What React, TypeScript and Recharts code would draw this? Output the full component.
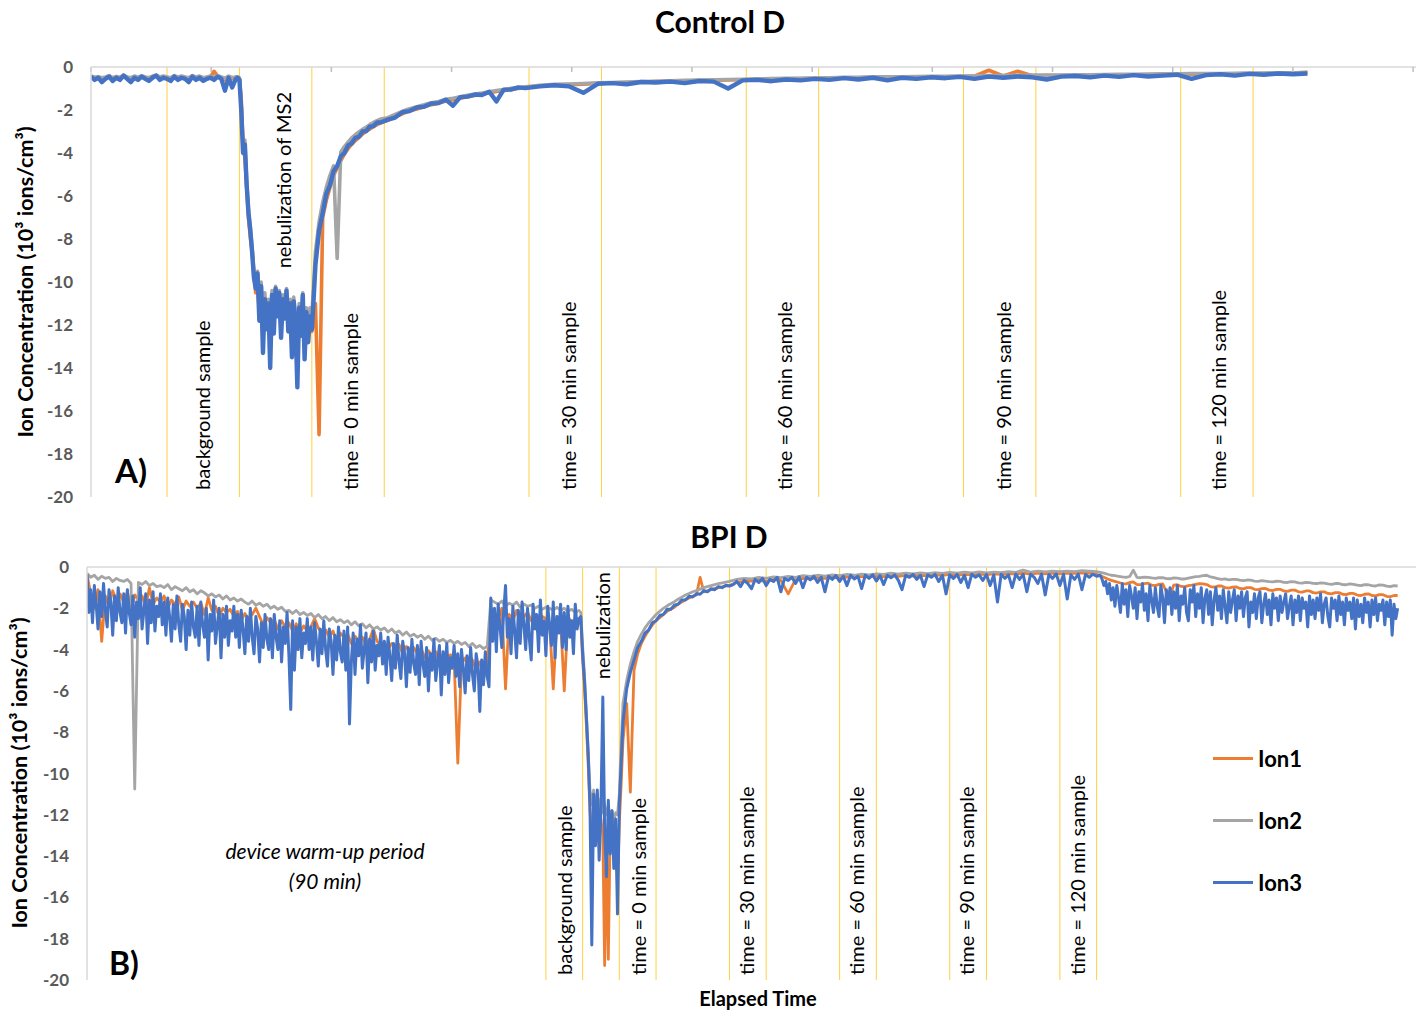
import React from "react";
import { LineChart, Line, XAxis, YAxis, ReferenceLine, Legend } from "recharts";

const FONT = "Lato, 'Open Sans', sans-serif";

// ---------- Control D (minutes) ----------
const controlTime = [
  0, 0.5, 1, 1.5, 2, 2.5, 3, 3.5, 4, 4.5, 5, 5.5, 6, 6.5, 7, 7.5, 8, 8.5, 9, 9.5,
  10, 10.5, 11, 11.5, 12, 12.5, 13, 13.5, 14, 14.5, 15, 15.5, 16, 16.5, 17, 17.5, 18, 18.5, 19, 19.5, 20,
  20.25, 20.5, 20.75, 21, 21.25, 21.5, 21.75, 22, 22.25, 22.5,
  22.75, 23, 23.25, 23.5, 23.75, 24, 24.25, 24.5, 24.75, 25,
  25.25, 25.5, 25.75, 26, 26.25, 26.5, 26.75, 27, 27.25, 27.5,
  27.75, 28, 28.25, 28.5, 28.75, 29, 29.25, 29.5, 29.75, 30,
  30.25, 30.5, 30.75, 31,
  31.5, 32, 32.5, 33, 33.5, 34, 34.5, 35, 35.5, 36, 36.5, 37, 37.5, 38, 38.5, 39, 39.5, 40,
  41, 42, 43, 44, 45, 46, 47, 48, 49, 50, 51, 52, 53, 54, 55, 56, 57, 58, 59, 60,
  62, 64, 66, 68, 70, 72, 74, 76, 78, 80, 82, 84, 86, 88, 90, 92, 94, 96, 98, 100,
  102, 104, 106, 108, 110, 112, 114, 116, 118, 120, 122, 124, 126, 128, 130, 132, 134, 136, 138, 140,
  142, 144, 146, 148, 150, 152, 154, 156, 158, 160, 162, 164, 166, 168,
];

const controlIon1 = [
  -0.45, -0.5, -0.48, -0.55, -0.5, -0.42, -0.55, -0.47, -0.52, -0.4,
  -0.5, -0.55, -0.45, -0.52, -0.42, -0.5, -0.55, -0.45, -0.4, -0.5,
  -0.45, -0.5, -0.55, -0.42, -0.5, -0.45, -0.5, -0.55, -0.45, -0.5,
  -0.45, -0.55, -0.5, -0.45, -0.2, -0.42, -0.5, -0.6, -0.45, -0.55, -0.5,
  -0.5, -0.55, -1.5, -3.6, -4.2, -5.6, -7.0, -7.9, -8.6, -9.6,
  -10.5, -10.0, -11.5, -10.6, -12.6, -11.0, -12.0, -11.2, -13.2, -10.9,
  -12.0, -10.8, -11.5, -10.9, -12.2, -11.0, -11.6, -10.8, -12.0, -11.2,
  -12.8, -11.1, -11.9, -13.8, -11.4, -12.2, -11.0, -13.0, -11.6, -12.4,
  -11.8, -12.3, -11.8, -11.0,
  -17.1, -7.0, -6.2, -5.6, -5.05, -4.7, -4.35, -4.05, -3.8, -3.6, -3.42, -3.28, -3.12, -3.0, -2.88, -2.78, -2.68, -2.6,
  -2.48, -2.32, -2.18, -2.04, -1.95, -1.85, -1.75, -1.68, -1.58, -1.52, -1.45, -1.38, -1.32, -1.27, -1.2, -1.14, -1.1, -1.04, -1.0, -0.96,
  -0.88, -0.84, -0.82, -0.8, -0.76, -0.74, -0.72, -0.7, -0.68, -0.66,
  -0.65, -0.63, -0.62, -0.6, -0.59, -0.57, -0.56, -0.55, -0.54, -0.53,
  -0.52, -0.5, -0.5, -0.48, -0.48, -0.47, -0.46, -0.45, -0.45, -0.44,
  -0.43, -0.15, -0.42, -0.2, -0.41, -0.4, -0.4, -0.39, -0.38, -0.38,
  -0.37, -0.36, -0.36, -0.35, -0.34, -0.34, -0.33, -0.32, -0.32, -0.31,
  -0.3, -0.3, -0.28, -0.25,
];

const controlIon2 = [
  -0.42, -0.48, -0.45, -0.5, -0.46, -0.4, -0.5, -0.44, -0.48, -0.38,
  -0.46, -0.5, -0.42, -0.48, -0.4, -0.46, -0.5, -0.42, -0.38, -0.46,
  -0.42, -0.46, -0.5, -0.4, -0.46, -0.42, -0.46, -0.5, -0.4, -0.46,
  -0.42, -0.5, -0.46, -0.42, -0.48, -0.4, -0.46, -0.52, -0.42, -0.5, -0.46,
  -0.45, -0.5, -1.8, -3.8, -3.4, -5.3, -6.6, -7.4, -8.4, -9.5,
  -10.0, -9.5, -11.0, -10.0, -12.0, -10.5, -11.6, -10.8, -12.6, -10.4,
  -11.8, -10.2, -11.2, -10.4, -12.0, -10.6, -11.4, -10.3, -11.8, -10.8,
  -12.5, -10.7, -11.6, -13.0, -11.0, -12.0, -10.5, -12.8, -11.2, -12.2,
  -11.2, -11.5, -10.2, -8.6,
  -7.2, -6.3, -5.6, -5.05, -4.6, -8.9, -3.95, -3.7, -3.5, -3.3, -3.15, -3.02, -2.9, -2.8, -2.68, -2.58, -2.5, -2.42,
  -2.36, -2.2, -2.06, -1.94, -1.85, -1.76, -1.66, -1.6, -1.5, -1.45, -1.38, -1.31, -1.26, -1.21, -1.15, -1.09, -1.05, -0.99, -0.95, -0.92,
  -0.85, -0.81, -0.79, -0.77, -0.74, -0.72, -0.7, -0.68, -0.66, -0.64,
  -0.62, -0.61, -0.6, -0.58, -0.57, -0.55, -0.54, -0.53, -0.52, -0.51,
  -0.5, -0.48, -0.48, -0.46, -0.46, -0.45, -0.44, -0.43, -0.43, -0.42,
  -0.41, -0.4, -0.4, -0.39, -0.38, -0.38, -0.37, -0.36, -0.36, -0.35,
  -0.34, -0.34, -0.33, -0.32, -0.32, -0.31, -0.3, -0.3, -0.29, -0.28,
  -0.28, -0.27, -0.27, -0.26,
];

const controlIon3 = [
  -0.45, -0.6, -0.5, -0.7, -0.55, -0.45, -0.65, -0.5, -0.6, -0.4,
  -0.55, -0.7, -0.5, -0.6, -0.45, -0.55, -0.65, -0.5, -0.4, -0.6,
  -0.5, -0.55, -0.65, -0.45, -0.6, -0.5, -0.55, -0.7, -0.45, -0.6,
  -0.5, -0.65, -0.55, -0.5, -0.6, -0.45, -0.55, -1.1, -0.5, -0.95, -0.55,
  -0.5, -0.6, -2.0, -4.0, -3.6, -5.5, -6.8, -7.6, -8.6, -9.8,
  -10.3, -9.6, -11.8, -10.2, -13.3, -10.8, -12.2, -11.0, -14.0, -10.6,
  -12.4, -10.3, -11.6, -10.5, -12.6, -10.8, -11.7, -10.4, -12.3, -11.0,
  -13.5, -10.9, -12.0, -14.9, -11.2, -12.5, -10.6, -13.6, -11.4, -12.8,
  -11.6, -12.2, -10.8, -9.2,
  -7.6, -6.8, -5.9, -5.5, -4.85, -4.6, -4.15, -4.0, -3.65, -3.55, -3.3, -3.25, -3.0, -2.98, -2.78, -2.75, -2.58, -2.58,
  -2.45, -2.35, -2.1, -2.05, -1.88, -1.85, -1.7, -1.68, -1.52, -1.8, -1.4, -1.38, -1.28, -1.3, -1.15, -1.6, -1.05, -1.05, -0.95, -0.98,
  -0.9, -0.85, -0.9, -1.2, -0.78, -0.75, -0.8, -0.7, -0.72, -0.68,
  -0.75, -0.65, -0.68, -1.0, -0.62, -0.6, -0.66, -0.58, -0.62, -0.55,
  -0.6, -0.52, -0.58, -0.5, -0.62, -0.5, -0.55, -0.48, -0.52, -0.46,
  -0.55, -0.45, -0.5, -0.44, -0.48, -0.58, -0.45, -0.42, -0.48, -0.4,
  -0.46, -0.38, -0.44, -0.4, -0.36, -0.55, -0.38, -0.34, -0.4, -0.32,
  -0.36, -0.3, -0.34, -0.3,
];

const controlMarkers = [10.5, 20.5, 30.5, 40.5, 60.5, 70.5, 90.5, 100.5, 120.5, 130.5, 150.5, 160.5];
const controlNotes = [
  { t: 15.6, text: "background sample" },
  { t: 36.1, text: "time = 0 min sample" },
  { t: 66.2, text: "time = 30 min sample" },
  { t: 96.0, text: "time = 60 min sample" },
  { t: 126.2, text: "time = 90 min sample" },
  { t: 155.9, text: "time = 120 min sample" },
];
const controlTopNotes = [{ t: 26.8, text: "nebulization of MS2" }];
const controlAxisTicks = [0, 16.6, 33.2, 49.8, 66.4, 83, 99.6, 116.2, 132.8, 149.4, 166, 182.6];

// ---------- BPI D (minutes) ----------
// Ion1 / Ion2 sampling
const bpiTime = [
  0, 1, 2, 3, 4, 5, 6, 7, 8, 9, 10, 11, 12, 13, 14, 15, 16, 17, 18, 19,
  20, 21, 22, 23, 24, 25, 26, 27, 28, 29, 30, 31, 32, 33, 34, 35, 36, 37, 38, 39,
  40, 41, 42, 43, 44, 45, 46, 47, 48, 49, 50, 51, 52, 53, 54, 55, 56, 57, 58, 59,
  60, 61, 62, 63, 64, 65, 66, 67, 68, 69, 70, 71, 72, 73, 74, 75, 76, 77, 78, 79,
  80, 81, 82, 83, 84, 85, 86, 87, 88, 89, 90, 91, 92, 93, 94, 95, 96, 97, 98, 99,
  100, 101, 102, 103, 104, 105, 106, 107, 108, 109, 110, 111, 112, 113, 114, 115, 116, 117, 118, 119,
  120, 121, 122, 123, 124, 125, 126, 127, 128, 129, 130, 131, 132, 133, 134,
  134.5, 135, 135.5, 136, 136.5, 137, 137.5, 138, 138.5, 139, 139.5, 140,
  140.5, 141, 141.5, 142, 142.5, 143, 143.5, 144, 144.5, 145, 145.5, 146,
  147, 148, 149, 150, 151, 152, 153, 154, 155, 156, 157, 158, 159, 160, 161,
  162, 163, 164, 165, 166, 167, 168, 169, 170, 171, 172, 173, 174, 175,
  177, 179, 181, 183, 185, 187, 189, 191, 193, 195, 197, 199, 201, 203, 205, 207, 209, 211, 213, 215,
  217, 219, 221, 223, 225, 227, 229, 231, 233, 235, 237, 239, 241, 243, 245, 247, 249, 251, 253, 255,
  257, 259, 261, 263, 265, 267, 269, 271, 273, 275,
  277, 278, 279, 280, 281, 282, 283, 284, 285, 286, 287, 288, 289, 290, 291, 292, 293, 294, 295, 296,
  297, 298, 299, 300, 301, 302, 303, 304, 305, 306, 307, 308, 309, 310, 311, 312, 313, 314, 315, 316,
  317, 318, 319, 320, 321, 322, 323, 324, 325, 326, 327, 328, 329, 330, 331, 332, 333, 334, 335, 336,
  337, 338, 339, 340, 341, 342, 343, 344, 345, 346, 347, 348, 349, 350, 351, 352, 353, 354, 355, 356,
  357,
];

const bpiIon1 = [
  -0.35, -1.3, -2.0, -1.1, -3.6, -1.4, -1.9, -1.15, -1.6, -1.3,
  -1.7, -1.2, -2.1, -1.35, -1.6, -1.4, -1.9, -1.0, -1.8, -1.5,
  -1.7, -1.4, -2.0, -1.6, -1.8, -1.45, -2.1, -1.65, -1.9, -1.7,
  -2.0, -1.75, -2.3, -1.5, -2.1, -1.9, -2.4, -2.0, -2.2, -2.05,
  -2.4, -2.15, -2.6, -2.25, -2.5, -2.3, -2.0, -2.4, -2.8, -2.45,
  -2.7, -2.55, -3.0, -2.6, -2.9, -2.7, -3.1, -2.75, -3.2, -2.85,
  -3.1, -2.9, -2.5, -2.95, -3.2, -3.05, -3.4, -3.1, -3.6, -3.2,
  -3.4, -3.25, -3.7, -3.35, -3.6, -3.4, -3.8, -3.5, -3.0, -3.6,
  -3.8, -3.65, -4.0, -3.7, -3.9, -3.75, -4.2, -3.85, -4.1, -3.9,
  -4.2, -3.95, -4.4, -4.05, -4.3, -4.1, -4.6, -4.2, -4.4, -4.25,
  -4.5, -9.5, -4.7, -4.4, -4.8, -4.5, -5.0, -4.6, -4.9, -4.7,
  -2.0, -2.2, -2.5, -2.0, -5.9, -2.3, -2.6, -2.1, -2.7, -2.4,
  -2.2, -2.6, -2.3, -2.8, -2.4, -2.5, -2.7, -5.9, -2.5, -2.6,
  -6.0, -2.4, -2.7, -2.5, -2.6,
  -2.5, -4.5, -5.8, -7.6, -9.5, -11.8, -13.0, -12.0, -12.5, -11.4, -13.0, -12.2,
  -13.0, -19.3, -13.5, -19.0, -12.8, -12.2, -14.0, -12.6, -15.5, -12.4, -10.5, -8.4,
  -6.6, -10.9, -5.0, -4.2, -3.7, -3.35, -3.05, -2.8, -2.6, -2.45, -2.3, -2.15, -2.05, -1.95, -1.8,
  -1.7, -1.58, -1.5, -1.42, -1.35, -0.5, -1.2, -1.15, -1.1, -1.05, -1.0, -0.96, -0.92, -0.9,
  -0.75, -0.7, -0.68, -0.65, -0.7, -0.6, -0.65, -1.3, -0.6, -0.55,
  -0.58, -0.52, -0.55, -0.5, -0.52, -0.48, -0.5, -0.45, -0.48, -0.44,
  -0.46, -0.42, -0.45, -0.4, -0.44, -0.4, -0.42, -0.38, -0.4, -0.36,
  -0.4, -0.36, -0.38, -0.34, -0.37, -0.33, -0.36, -0.32, -0.35, -0.3,
  -0.34, -0.3, -0.33, -0.29, -0.32, -0.3, -0.31, -0.28, -0.3, -0.35,
  -0.5, -0.58, -0.65, -0.7, -0.75, -0.8, -0.82, -0.76, -0.72, -0.85,
  -0.85, -0.8, -0.78, -0.88, -0.9, -0.84, -0.82, -1.2, -1.4, -0.88,
  -0.86, -0.94, -0.95, -0.9, -0.88, -0.84, -0.8, -0.82, -0.85, -0.95,
  -0.98, -0.92, -0.92, -1.0, -1.02, -0.97, -0.96, -1.04, -1.06, -1.0,
  -1.0, -1.08, -1.1, -1.05, -1.04, -1.12, -1.14, -1.08, -1.08, -1.16,
  -1.18, -1.12, -1.12, -1.2, -1.22, -1.16, -1.16, -1.24, -1.26, -1.2,
  -1.2, -1.28, -1.3, -1.24, -1.24, -1.32, -1.34, -1.28, -1.28, -1.36,
  -1.38, -1.32, -1.3, -1.38, -1.4, -1.34, -1.34, -1.42, -1.44, -1.38,
  -1.38,
];

const bpiIon2 = [
  -0.3, -0.5, -0.4, -0.6, -0.45, -0.55, -0.5, -0.7, -0.55, -0.65,
  -0.7, -0.6, -0.8, -10.75, -0.75, -0.85, -0.7, -0.9, -0.8, -0.95,
  -0.9, -1.0, -0.85, -1.1, -0.95, -1.05, -1.15, -1.0, -1.2, -1.1,
  -1.3, -1.15, -1.25, -1.4, -1.3, -1.45, -1.35, -1.55, -1.4, -1.6,
  -1.5, -1.65, -1.55, -1.7, -1.8, -1.65, -1.85, -1.75, -1.9, -1.8,
  -2.0, -1.9, -2.05, -1.95, -2.15, -2.1, -2.25, -2.1, -2.3, -2.2,
  -2.35, -2.25, -2.45, -2.3, -2.5, -2.4, -2.6, -2.45, -2.65, -2.55,
  -2.7, -2.6, -2.8, -2.65, -2.85, -2.75, -2.95, -2.8, -3.0, -2.9,
  -3.05, -2.95, -3.15, -3.0, -3.2, -3.1, -3.3, -3.15, -3.35, -3.25,
  -3.4, -3.3, -3.5, -3.35, -3.55, -3.45, -3.6, -3.5, -3.65, -3.55,
  -3.7, -3.6, -3.75, -3.65, -3.85, -3.7, -3.9, -3.8, -3.95, -3.85,
  -1.6, -1.7, -1.8, -1.65, -1.9, -1.75, -1.85, -1.7, -1.95, -1.8,
  -1.9, -1.85, -2.0, -1.9, -2.05, -1.95, -2.0, -2.1, -1.95, -2.1,
  -2.0, -2.15, -2.05, -2.2, -2.1,
  -2.2, -3.8, -5.2, -7.0, -8.8, -10.8, -11.5, -10.8, -11.6, -11.0, -11.8, -11.2,
  -11.9, -11.5, -12.0, -11.6, -12.2, -11.8, -12.3, -11.9, -12.0, -11.0, -8.6, -6.6,
  -5.5, -4.7, -4.1, -3.6, -3.25, -2.95, -2.7, -2.5, -2.3, -2.15, -2.0, -1.88, -1.78, -1.68, -1.56,
  -1.46, -1.36, -1.28, -1.2, -1.14, -1.07, -1.0, -0.95, -0.9, -0.85, -0.8, -0.77, -0.73, -0.7,
  -0.6, -0.55, -0.58, -0.5, -0.55, -0.48, -0.52, -0.45, -0.5, -0.42,
  -0.46, -0.4, -0.44, -0.38, -0.42, -0.36, -0.4, -0.34, -0.38, -0.33,
  -0.36, -0.3, -0.35, -0.3, -0.33, -0.28, -0.32, -0.27, -0.31, -0.26,
  -0.3, -0.25, -0.29, -0.24, -0.28, -0.25, -0.27, -0.22, -0.26, -0.15,
  -0.25, -0.2, -0.24, -0.2, -0.23, -0.2, -0.22, -0.18, -0.2, -0.22,
  -0.3, -0.35, -0.4, -0.42, -0.45, -0.48, -0.5, -0.46, -0.15, -0.5,
  -0.52, -0.49, -0.5, -0.53, -0.55, -0.51, -0.52, -0.56, -0.57, -0.53,
  -0.54, -0.58, -0.58, -0.54, -0.5, -0.47, -0.45, -0.42, -0.4, -0.48,
  -0.52, -0.56, -0.6, -0.58, -0.62, -0.6, -0.6, -0.64, -0.66, -0.63,
  -0.64, -0.68, -0.7, -0.66, -0.68, -0.71, -0.72, -0.69, -0.7, -0.74,
  -0.75, -0.71, -0.72, -0.77, -0.78, -0.74, -0.76, -0.79, -0.8, -0.77,
  -0.78, -0.82, -0.84, -0.8, -0.8, -0.85, -0.86, -0.82, -0.84, -0.88,
  -0.9, -0.85, -0.86, -0.9, -0.92, -0.87, -0.88, -0.93, -0.95, -0.9,
  -0.92,
];

// Ion3 is logged more densely
const bpiIon3Time = [
  0, 0.5, 1, 1.5, 2, 2.5, 3, 3.5, 4, 4.5, 5, 5.5, 6, 6.5, 7, 7.5, 8, 8.5, 9, 9.5,
  10, 10.5, 11, 11.5, 12, 12.5, 13, 13.5, 14, 14.5, 15, 15.5, 16, 16.5, 17, 17.5, 18, 18.5, 19, 19.5,
  20, 20.5, 21, 21.5, 22, 22.5, 23, 23.5, 24, 24.5, 25, 25.5, 26, 26.5, 27, 27.5, 28, 28.5, 29, 29.5,
  30, 30.5, 31, 31.5, 32, 32.5, 33, 33.5, 34, 34.5, 35, 35.5, 36, 36.5, 37, 37.5, 38, 38.5, 39, 39.5,
  40, 40.5, 41, 41.5, 42, 42.5, 43, 43.5, 44, 44.5, 45, 45.5, 46, 46.5, 47, 47.5, 48, 48.5, 49, 49.5,
  50, 50.5, 51, 51.5, 52, 52.5, 53, 53.5, 54, 54.5, 55, 55.5, 56, 56.5, 57, 57.5, 58, 58.5, 59, 59.5,
  60, 60.5, 61, 61.5, 62, 62.5, 63, 63.5, 64, 64.5, 65, 65.5, 66, 66.5, 67, 67.5, 68, 68.5, 69, 69.5,
  70, 70.5, 71, 71.5, 72, 72.5, 73, 73.5, 74, 74.5, 75, 75.5, 76, 76.5, 77, 77.5, 78, 78.5, 79, 79.5,
  80, 80.5, 81, 81.5, 82, 82.5, 83, 83.5, 84, 84.5, 85, 85.5, 86, 86.5, 87, 87.5, 88, 88.5, 89, 89.5,
  90, 90.5, 91, 91.5, 92, 92.5, 93, 93.5, 94, 94.5, 95, 95.5, 96, 96.5, 97, 97.5, 98, 98.5, 99, 99.5,
  100, 100.5, 101, 101.5, 102, 102.5, 103, 103.5, 104, 104.5, 105, 105.5, 106, 106.5, 107, 107.5, 108, 108.5, 109, 109.5,
  110, 110.5, 111, 111.5, 112, 112.5, 113, 113.5, 114, 114.5, 115, 115.5, 116, 116.5, 117, 117.5, 118, 118.5, 119, 119.5,
  120, 120.5, 121, 121.5, 122, 122.5, 123, 123.5, 124, 124.5, 125, 125.5, 126, 126.5, 127, 127.5, 128, 128.5, 129, 129.5,
  130, 130.5, 131, 131.5, 132, 132.5, 133, 133.5, 134,
  134.5, 135, 135.5, 136, 136.5, 137, 137.5, 138, 138.5, 139, 139.5, 140,
  140.5, 141, 141.5, 142, 142.5, 143, 143.5, 144, 144.5, 145, 145.5, 146,
  147, 148, 149, 150, 151, 152, 153, 154, 155, 156, 157, 158, 159, 160, 161,
  162, 163, 164, 165, 166, 167, 168, 169, 170, 171, 172, 173, 174, 175,
  176, 177, 178, 179, 180, 181, 182, 183, 184, 185, 186, 187, 188, 189, 190, 191, 192, 193, 194, 195,
  196, 197, 198, 199, 200, 201, 202, 203, 204, 205, 206, 207, 208, 209, 210, 211, 212, 213, 214, 215,
  216, 217, 218, 219, 220, 221, 222, 223, 224, 225, 226, 227, 228, 229, 230, 231, 232, 233, 234, 235,
  236, 237, 238, 239, 240, 241, 242, 243, 244, 245, 246, 247, 248, 249, 250, 251, 252, 253, 254, 255,
  256, 257, 258, 259, 260, 261, 262, 263, 264, 265, 266, 267, 268, 269, 270, 271, 272, 273, 274, 275,
  276, 276.5, 277, 277.5, 278, 278.5, 279, 279.5, 280, 280.5, 281, 281.5, 282, 282.5, 283, 283.5, 284, 284.5, 285, 285.5,
  286, 286.5, 287, 287.5, 288, 288.5, 289, 289.5, 290, 290.5, 291, 291.5, 292, 292.5, 293, 293.5, 294, 294.5, 295, 295.5,
  296, 296.5, 297, 297.5, 298, 298.5, 299, 299.5, 300, 300.5, 301, 301.5, 302, 302.5, 303, 303.5, 304, 304.5, 305, 305.5,
  306, 306.5, 307, 307.5, 308, 308.5, 309, 309.5, 310, 310.5, 311, 311.5, 312, 312.5, 313, 313.5, 314, 314.5, 315, 315.5,
  316, 316.5, 317, 317.5, 318, 318.5, 319, 319.5, 320, 320.5, 321, 321.5, 322, 322.5, 323, 323.5, 324, 324.5, 325, 325.5,
  326, 326.5, 327, 327.5, 328, 328.5, 329, 329.5, 330, 330.5, 331, 331.5, 332, 332.5, 333, 333.5, 334, 334.5, 335, 335.5,
  336, 336.5, 337, 337.5, 338, 338.5, 339, 339.5, 340, 340.5, 341, 341.5, 342, 342.5, 343, 343.5, 344, 344.5, 345, 345.5,
  346, 346.5, 347, 347.5, 348, 348.5, 349, 349.5, 350, 350.5, 351, 351.5, 352, 352.5, 353, 353.5, 354, 354.5, 355, 355.5,
  356, 356.5, 357,
];

const bpiIon3 = [
  -0.35, -2.2, -1.1, -2.7, -0.9, -1.8, -3.0, -1.2, -2.4, -0.8,
  -2.1, -2.9, -1.1, -1.7, -3.3, -1.4, -2.6, -1.0, -2.2, -2.7,
  -1.3, -3.2, -1.1, -2.2, -2.8, -1.4, -3.4, -1.7, -2.5, -1.0,
  -3.0, -2.1, -1.3, -3.7, -1.6, -2.7, -1.2, -3.1, -1.9, -2.4,
  -1.3, -2.8, -1.7, -3.3, -1.5, -2.4, -3.6, -1.8, -3.0, -1.4,
  -2.8, -3.6, -1.8, -2.4, -4.0, -2.1, -3.3, -1.7, -2.9, -3.4,
  -1.9, -3.8, -1.7, -2.8, -3.4, -2.0, -4.5, -2.3, -3.1, -1.6,
  -3.7, -2.8, -2.0, -4.4, -2.3, -3.4, -1.9, -3.8, -2.6, -3.1,
  -1.9, -3.4, -2.3, -3.9, -2.1, -3.0, -4.2, -2.4, -3.6, -2.0,
  -3.4, -4.2, -2.4, -3.0, -4.6, -2.7, -3.9, -2.3, -3.5, -4.0,
  -2.5, -4.4, -2.3, -3.4, -4.0, -2.6, -4.6, -2.9, -3.7, -2.2,
  -4.3, -6.9, -2.6, -5.0, -2.9, -4.0, -2.5, -4.4, -3.2, -3.7,
  -2.5, -4.0, -2.9, -4.5, -2.7, -3.6, -4.8, -3.0, -4.2, -2.6,
  -4.0, -4.8, -3.0, -3.6, -5.2, -3.3, -4.5, -2.9, -4.1, -4.6,
  -3.1, -5.0, -2.9, -7.6, -4.6, -3.2, -5.2, -3.5, -4.3, -2.8,
  -4.9, -4.0, -3.2, -5.6, -3.5, -4.6, -3.1, -5.0, -3.8, -4.3,
  -3.2, -4.7, -3.6, -5.2, -3.4, -4.3, -5.5, -3.7, -4.9, -3.3,
  -4.6, -5.4, -3.6, -4.2, -5.8, -3.9, -5.1, -3.5, -4.7, -5.2,
  -3.8, -5.7, -3.6, -4.7, -5.3, -3.9, -6.0, -4.2, -5.0, -3.5,
  -5.5, -4.6, -3.8, -6.2, -4.1, -5.2, -3.7, -5.6, -4.4, -4.9,
  -3.8, -5.3, -4.2, -5.8, -4.0, -4.9, -6.1, -4.3, -5.5, -3.9,
  -5.2, -6.0, -4.2, -4.8, -7.0, -4.5, -5.7, -4.1, -5.3, -5.8,
  -1.5, -3.6, -2.0, -4.1, -1.8, -2.9, -3.9, -2.2, -0.9, -3.4,
  -2.5, -4.2, -1.9, -3.1, -4.4, -2.1, -3.7, -1.7, -2.8, -4.0,
  -2.0, -3.5, -4.5, -1.8, -3.0, -2.3, -4.1, -1.6, -3.3, -2.6,
  -4.3, -1.9, -2.8, -3.8, -1.7, -4.4, -2.4, -3.2, -1.8, -3.9,
  -2.2, -4.0, -1.9, -3.4, -2.6, -4.2, -1.8, -3.0, -2.5,
  -2.4, -4.2, -5.5, -7.2, -9.0, -11.5, -18.3, -11.0, -13.5, -10.8, -14.2, -11.6,
  -6.3, -12.8, -15.0, -11.3, -13.9, -11.8, -14.6, -12.2, -16.8, -11.5, -9.5, -7.5,
  -5.9, -5.1, -4.5, -3.9, -3.6, -3.2, -3.05, -2.7, -2.6, -2.35, -2.3, -2.05, -2.05, -1.85, -1.8,
  -1.6, -1.6, -1.42, -1.45, -1.3, -1.32, -1.15, -1.2, -1.05, -1.1, -0.95, -1.0, -0.88, -0.92,
  -0.85, -0.7, -0.95, -0.65, -0.8, -1.05, -0.6, -0.75, -0.55, -0.9,
  -0.6, -0.7, -0.5, -1.2, -0.55, -0.65, -0.5, -0.8, -0.48, -1.0,
  -0.5, -0.62, -0.45, -0.75, -0.5, -1.2, -0.45, -0.6, -0.42, -0.7,
  -0.45, -0.9, -0.4, -0.58, -0.45, -1.05, -0.4, -0.55, -0.38, -0.68,
  -0.42, -0.85, -0.4, -0.52, -0.38, -0.65, -1.1, -0.4, -0.5, -0.36,
  -0.6, -0.4, -0.95, -0.38, -0.5, -0.36, -0.7, -0.4, -1.3, -0.38,
  -0.55, -0.36, -0.75, -0.4, -1.0, -0.35, -0.5, -0.38, -0.65, -0.36,
  -0.9, -0.38, -1.7, -0.35, -0.55, -0.38, -1.0, -0.34, -0.6, -0.36,
  -1.2, -0.35, -0.5, -0.8, -0.34, -1.35, -0.36, -0.55, -0.33, -0.9,
  -0.35, -1.55, -0.38, -0.6, -0.34, -1.1, -0.36, -0.5, -0.35, -0.45,
  -0.4, -0.6, -0.9, -0.7, -1.3, -0.8, -1.6, -1.0, -1.9, -0.9,
  -1.5, -2.2, -0.8, -1.8, -1.1, -2.4, -0.9, -1.4, -2.0, -1.0,
  -2.5, -1.2, -1.7, -0.8, -2.1, -1.3, -2.6, -0.9, -1.6, -2.2,
  -1.0, -1.9, -2.4, -0.9, -1.5, -2.7, -1.1, -1.8, -1.0, -2.3,
  -1.2, -2.0, -0.9, -2.6, -1.4, -1.8, -1.0, -2.2, -2.6, -1.1,
  -1.7, -0.9, -2.4, -1.3, -2.0, -1.0, -2.7, -1.5, -1.1, -2.3,
  -1.2, -2.8, -1.6, -1.0, -2.1, -1.4, -2.5, -1.1, -1.9, -2.7,
  -1.2, -2.2, -1.6, -1.1, -2.6, -1.4, -2.0, -1.2, -2.4, -1.5,
  -1.2, -2.9, -1.7, -2.2, -1.3, -2.5, -1.5, -1.2, -2.7, -1.8,
  -1.3, -2.3, -1.6, -2.8, -1.3, -2.0, -1.5, -2.6, -1.4, -2.2,
  -1.7, -1.3, -2.5, -1.9, -1.4, -2.8, -1.6, -2.2, -1.4, -2.6,
  -1.5, -2.0, -1.7, -2.9, -1.4, -2.3, -1.6, -2.5, -1.5, -2.1,
  -1.3, -2.7, -1.8, -1.5, -2.4, -2.9, -1.5, -2.0, -1.6, -2.6,
  -1.4, -2.3, -1.7, -2.8, -1.5, -2.1, -1.7, -2.5, -1.5, -3.0,
  -1.6, -2.4, -1.8, -2.7, -1.5, -2.2, -1.7, -2.9, -1.6, -2.3,
  -1.5, -2.6, -1.8, -2.1, -1.6, -2.8, -1.7, -2.4, -1.6, -3.3,
  -1.8, -2.5, -2.0,
];

const bpiMarkers = [125, 135, 145, 155, 175, 185, 205, 215, 235, 245, 265, 275];
const bpiNotes = [
  { t: 130.4, text: "background sample" },
  { t: 150.6, text: "time = 0 min sample" },
  { t: 180.0, text: "time = 30 min sample" },
  { t: 210.0, text: "time = 60 min sample" },
  { t: 240.0, text: "time = 90 min sample" },
  { t: 270.3, text: "time = 120 min sample" },
];
const bpiTopNotes = [{ t: 140.8, text: "nebulization" }];

const yTicks = [0, -2, -4, -6, -8, -10, -12, -14, -16, -18, -20];

const controlData = controlTime.map((t, i) => ({ t, ion1: controlIon1[i], ion2: controlIon2[i], ion3: controlIon3[i] }));
const bpiData = bpiTime.map((t, i) => ({ t, ion1: bpiIon1[i], ion2: bpiIon2[i] }));
const bpiIon3Data = bpiIon3Time.map((t, i) => ({ t, ion3: bpiIon3[i] }));

function noteLabel(text: string, anchor: "top" | "bottom", inset: number) {
  return (props: any) => {
    const vb = props && props.viewBox ? props.viewBox : { x: 0, y: 0, width: 0, height: 0 };
    const top = Math.min(vb.y, vb.y + vb.height);
    const bottom = Math.max(vb.y, vb.y + vb.height);
    const x = vb.x + 6;
    const y = anchor === "bottom" ? bottom - inset : top + inset;
    return (
      <text
        x={x}
        y={y}
        transform={`rotate(-90 ${x} ${y})`}
        textAnchor={anchor === "bottom" ? "start" : "end"}
        fontSize={20}
        fontFamily={FONT}
        fill="#000"
      >
        {text}
      </text>
    );
  };
}

function IonLegend({ payload }: any) {
  return (
    <div style={{ fontFamily: FONT }}>
      {(payload || []).map((p: any) => (
        <div key={p.value} style={{ display: "flex", alignItems: "center", height: 26, marginBottom: 36 }}>
          <span style={{ display: "inline-block", width: 40, height: 3, background: p.color }} />
          <span style={{ marginLeft: 5, fontSize: 22, fontWeight: 700, color: "#000" }}>{p.value}</span>
        </div>
      ))}
    </div>
  );
}

interface PanelProps {
  data: any[];
  blueData?: any[];
  height: number;
  margin: { top: number; right: number; bottom: number; left: number };
  yWidth: number;
  domain: [number, number];
  markers: number[];
  notes: { t: number; text: string }[];
  topNotes: { t: number; text: string }[];
  bottomInset: number;
  topInset: number;
  lineWidth: number;
  blueWidth: number;
  axisTicks?: number[];
  legend?: boolean;
}

function Panel(p: PanelProps) {
  return (
    <LineChart width={1416} height={p.height} data={p.data} margin={p.margin}>
      <XAxis
        type="number"
        dataKey="t"
        domain={p.domain}
        orientation="top"
        mirror
        ticks={p.axisTicks}
        interval={0}
        tickFormatter={() => ""}
        axisLine={{ stroke: "#D9D9D9", strokeWidth: 1.5 }}
        tickLine={p.axisTicks ? { stroke: "#BFBFBF", strokeWidth: 1.5 } : false}
        tickSize={5}
        allowDataOverflow
      />
      <YAxis
        type="number"
        domain={[-20, 0]}
        ticks={yTicks}
        interval={0}
        width={p.yWidth}
        axisLine={{ stroke: "#D9D9D9", strokeWidth: 1.5 }}
        tickLine={false}
        tickSize={6}
        tickMargin={12}
        tick={{ fill: "#595959", fontSize: 17, fontWeight: 700, fontFamily: FONT }}
        allowDataOverflow
      />
      {p.markers.map((m) => (
        <ReferenceLine key={`m${m}`} x={m} stroke="#FFC000" strokeOpacity={0.75} strokeWidth={1} />
      ))}
      {p.notes.map((n) => (
        <ReferenceLine key={`n${n.t}`} x={n.t} stroke="none" label={noteLabel(n.text, "bottom", p.bottomInset)} />
      ))}
      {p.topNotes.map((n) => (
        <ReferenceLine key={`tn${n.t}`} x={n.t} stroke="none" label={noteLabel(n.text, "top", p.topInset)} />
      ))}
      <Line dataKey="ion1" name="Ion1" stroke="#ED7D31" strokeWidth={p.lineWidth} strokeLinejoin="round" dot={false} isAnimationActive={false} />
      <Line dataKey="ion2" name="Ion2" stroke="#A5A5A5" strokeWidth={p.lineWidth} strokeLinejoin="round" dot={false} isAnimationActive={false} />
      <Line
        data={p.blueData}
        dataKey="ion3"
        name="Ion3"
        stroke="#4472C4"
        strokeWidth={p.blueWidth}
        strokeLinejoin="round"
        dot={false}
        isAnimationActive={false}
      />
      {p.legend && (
        <Legend
          layout="horizontal"
          verticalAlign="middle"
          align="center"
          content={(lp: any) => <IonLegend payload={lp.payload} />}
          wrapperStyle={{ left: 1213, top: 235, width: 180 }}
        />
      )}
    </LineChart>
  );
}

const yLabel = "Ion Concentration (10³ ions/cm³)";

export default function App() {
  return (
    <div style={{ position: "relative", width: 1416, height: 1011, fontFamily: FONT, background: "#fff", overflow: "hidden" }}>
      <style>{"body{margin:0;}"}</style>
      <div style={{ position: "absolute", left: 0, top: 0 }}>
        <Panel
          data={controlData}
          height={510}
          margin={{ top: 67, right: 0, bottom: 13, left: 0 }}
          yWidth={91}
          domain={[0, 183]}
          markers={controlMarkers}
          notes={controlNotes}
          topNotes={controlTopNotes}
          bottomInset={7}
          topInset={25}
          lineWidth={3.6}
          blueWidth={4.4}
          axisTicks={controlAxisTicks}
        />
      </div>
      <div style={{ position: "absolute", left: 0, top: 510 }}>
        <Panel
          data={bpiData}
          blueData={bpiIon3Data}
          height={501}
          margin={{ top: 57, right: 0, bottom: 31, left: 0 }}
          yWidth={87}
          domain={[0, 362]}
          markers={bpiMarkers}
          notes={bpiNotes}
          topNotes={bpiTopNotes}
          bottomInset={5}
          topInset={5}
          lineWidth={2.8}
          blueWidth={3}
          legend
        />
      </div>
      <svg width={1416} height={1011} style={{ position: "absolute", left: 0, top: 0, pointerEvents: "none" }}>
        <text x={720} y={33} textAnchor="middle" fontSize={30} fontWeight={700} fontFamily={FONT}>Control D</text>
        <text x={729} y={548} textAnchor="middle" fontSize={30} fontWeight={700} fontFamily={FONT}>BPI D</text>
        <text x={115} y={483} fontSize={33} fontWeight={700} fontFamily={FONT}>A)</text>
        <text x={109} y={975} fontSize={32} fontWeight={700} fontFamily={FONT}>B)</text>
        <text x={33} y={282} transform="rotate(-90 33 282)" textAnchor="middle" fontSize={21.5} fontWeight={700} fontFamily={FONT}>{yLabel}</text>
        <text x={27} y={773} transform="rotate(-90 27 773)" textAnchor="middle" fontSize={21.5} fontWeight={700} fontFamily={FONT}>{yLabel}</text>
        <text x={325} y={859} textAnchor="middle" fontSize={21} fontStyle="italic" fontFamily={FONT}>device warm-up period</text>
        <text x={325} y={889} textAnchor="middle" fontSize={21} fontStyle="italic" fontFamily={FONT}>(90 min)</text>
        <text x={758} y={1006} textAnchor="middle" fontSize={20} fontWeight={700} fontFamily={FONT}>Elapsed Time</text>
      </svg>
    </div>
  );
}
